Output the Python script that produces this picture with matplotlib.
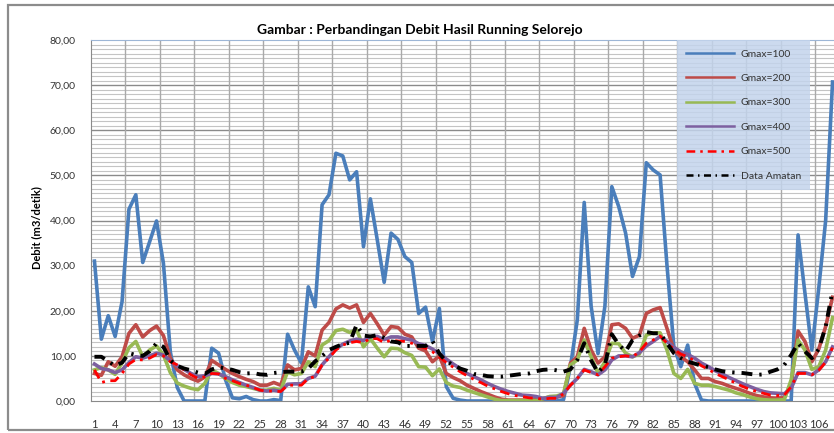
import numpy as np
import matplotlib
matplotlib.use("Agg")
import matplotlib.pyplot as plt
from matplotlib.patches import Rectangle
from matplotlib.ticker import MultipleLocator, FuncFormatter

plt.rcParams['font.family'] = ['Lato', 'DejaVu Sans']

# data (periode 1..108)
periode = np.arange(1, 109)

gmax100 = [31.0, 13.7, 18.9, 14.3, 22.0, 42.5, 45.7, 30.7, 35.3, 39.9,
           30.5, 10.9, 3.0, 0, 0, 0, 0, 11.7, 10.6, 4.7,
           0.7, 0.5, 1.0, 0.3, 0, 0, 0.3, 0.1, 14.8, 11.3,
           8.4, 25.3, 20.9, 43.5, 45.7, 54.9, 54.3, 49.0, 50.8, 34.2,
           44.8, 35.7, 26.3, 37.2, 35.8, 32.0, 30.7, 19.4, 20.8, 13.2,
           20.5, 3.2, 0.6, 0.2, 0, 0, 0, 0, 0, 0,
           0, 0, 0, 0, 0, 0, 0, 0, 0.3, 7.6,
           18.0, 44.0, 21.0, 10.5, 21.0, 47.5, 43.1, 37.2, 27.6, 32.0,
           52.8, 51.2, 50.1, 30.0, 12.0, 7.6, 12.4, 3.9, 0.2, 0,
           0, 0, 0, 0, 0, 0, 0, 0, 0, 0,
           0, 0, 36.8, 23.9, 11.3, 25.0, 40.0, 70.7]

gmax200 = [6.1, 5.7, 8.7, 7.7, 9.8, 15.0, 16.9, 14.2, 15.6, 16.6,
           14.5, 9.5, 6.9, 5.8, 5.0, 4.4, 5.3, 9.0, 8.0, 7.0,
           6.1, 5.4, 4.8, 4.3, 3.5, 3.5, 4.1, 3.5, 8.0, 6.9,
           7.2, 10.9, 10.0, 15.7, 17.4, 20.4, 21.3, 20.6, 21.3, 17.4,
           19.4, 17.1, 14.6, 16.5, 16.3, 14.8, 14.2, 11.7, 11.1, 8.7,
           10.0, 6.1, 5.2, 4.5, 3.5, 2.8, 2.1, 1.5, 0.9, 0.4,
           0.2, 0.2, 0.2, 0.2, 0.3, 0.5, 0.9, 0.9, 1.2, 8.4,
           9.8, 16.1, 11.3, 8.4, 9.8, 16.9, 17.1, 16.1, 13.9, 14.6,
           19.4, 20.2, 20.7, 16.1, 11.3, 9.8, 8.7, 6.9, 5.0, 5.0,
           4.3, 3.9, 3.3, 2.8, 2.3, 1.7, 1.2, 0.9, 0.7, 0.6,
           0.8, 3.7, 15.5, 13.2, 8.7, 11.5, 16.5, 23.0]

gmax300 = [6.9, 7.4, 6.9, 5.9, 8.5, 11.8, 13.2, 9.8, 11.3, 12.2,
           10.2, 6.3, 4.0, 3.3, 2.8, 2.5, 3.9, 6.9, 6.1, 5.0,
           4.1, 3.5, 3.2, 2.8, 2.4, 2.4, 2.8, 2.4, 6.5, 5.8,
           6.1, 8.7, 7.6, 12.4, 13.4, 15.6, 15.9, 15.2, 15.8, 12.0,
           13.8, 11.7, 9.8, 11.7, 11.6, 10.7, 10.1, 7.6, 7.5, 5.6,
           7.1, 4.1, 3.3, 3.0, 2.4, 1.9, 1.4, 0.9, 0.4, 0.1,
           0.1, 0.1, 0.1, 0.1, 0.1, 0.5, 1.0, 1.1, 1.6, 8.0,
           9.1, 13.5, 9.8, 6.1, 8.7, 12.8, 12.7, 10.6, 9.8, 10.4,
           14.6, 15.1, 15.1, 11.3, 6.1, 5.0, 7.0, 3.9, 3.5, 3.5,
           3.2, 2.8, 2.4, 1.8, 1.4, 0.9, 0.5, 0.3, 0.2, 0.2,
           0.3, 4.7, 13.5, 11.3, 7.0, 7.6, 11.3, 18.5]

gmax400 = [8.2, 7.2, 6.9, 6.3, 6.9, 8.5, 9.8, 9.5, 10.0, 10.6,
           10.2, 8.9, 7.8, 7.0, 6.1, 5.4, 5.6, 6.1, 6.0, 5.4,
           4.7, 4.1, 3.5, 3.0, 2.4, 2.2, 2.4, 2.1, 3.7, 3.8,
           3.8, 5.0, 5.5, 8.0, 9.8, 11.5, 12.6, 13.3, 13.7, 13.4,
           14.3, 14.3, 13.6, 14.2, 14.2, 13.8, 13.5, 12.7, 12.3, 11.5,
           10.5, 9.3, 8.2, 7.2, 6.1, 5.4, 4.7, 3.9, 3.2, 2.6,
           2.1, 1.7, 1.3, 1.2, 1.0, 0.6, 0.8, 0.8, 1.7, 3.5,
           5.0, 7.0, 6.5, 5.8, 6.9, 9.1, 10.0, 10.0, 9.8, 10.7,
           12.2, 13.2, 14.3, 13.2, 11.9, 10.9, 10.3, 9.5, 8.4, 7.6,
           6.7, 6.0, 5.2, 4.5, 3.8, 3.2, 2.6, 2.1, 1.8, 1.7,
           1.6, 2.8, 6.3, 6.3, 5.8, 6.9, 8.7, 12.0]

gmax500 = [6.9, 4.1, 4.5, 4.5, 6.1, 8.2, 9.2, 9.1, 9.5, 10.3,
           10.0, 8.7, 8.0, 6.9, 5.8, 5.0, 5.4, 6.1, 6.0, 5.0,
           4.5, 3.9, 3.5, 3.0, 2.4, 2.2, 2.2, 2.1, 3.5, 3.5,
           3.5, 5.0, 5.4, 8.0, 9.5, 11.3, 12.4, 12.9, 13.2, 12.9,
           13.9, 13.8, 12.9, 13.5, 13.3, 13.2, 12.8, 12.2, 11.7, 10.9,
           9.8, 8.5, 7.5, 6.5, 5.6, 4.8, 4.1, 3.3, 2.7, 2.1,
           1.6, 1.2, 1.0, 0.7, 0.6, 0.4, 0.6, 0.6, 1.6, 3.5,
           5.0, 6.9, 6.3, 5.8, 7.6, 9.5, 9.8, 10.0, 9.8, 10.9,
           12.8, 13.5, 14.4, 12.8, 11.5, 10.4, 9.8, 8.9, 7.8, 7.0,
           6.1, 5.4, 4.7, 3.9, 3.2, 2.6, 2.1, 1.7, 1.3, 1.2,
           1.3, 3.2, 6.1, 6.1, 5.8, 6.8, 8.6, 11.8]

amatan = [9.8, 9.8, 8.8, 7.8, 8.5, 10.6, 10.2, 10.0, 11.0, 12.8,
          12.0, 9.0, 7.8, 7.2, 6.8, 6.3, 6.0, 7.0, 7.5, 7.2,
          6.9, 6.4, 6.1, 6.2, 5.9, 5.8, 6.2, 6.4, 6.5, 6.5,
          6.5, 7.2, 8.8, 10.0, 11.3, 12.0, 12.6, 12.9, 16.9, 14.5,
          14.3, 14.6, 14.0, 13.2, 13.0, 12.2, 12.2, 12.2, 12.2, 13.3,
          10.5, 8.8, 8.0, 7.2, 6.7, 6.0, 5.8, 5.5, 5.4, 5.4,
          5.6, 5.8, 6.0, 6.1, 6.6, 6.9, 7.0, 6.8, 6.5, 7.0,
          9.1, 12.8, 9.0, 6.3, 8.0, 14.8, 12.5, 11.0, 13.5, 14.5,
          15.3, 15.0, 15.0, 12.8, 10.6, 9.5, 8.7, 8.3, 7.8, 7.5,
          7.0, 6.6, 6.4, 6.3, 6.2, 6.0, 5.8, 5.9, 6.5, 7.0,
          8.0, 10.2, 12.8, 11.0, 9.5, 11.5, 16.5, 24.5]

xtick_labels = list(range(1, 107, 3))

fig = plt.figure(figsize=(8.34, 4.33), dpi=100)
fig.patch.set_facecolor('white')

# chart area border
fig.patches.append(Rectangle((8 / 834, 3 / 433), 1.0, 1 - 8 / 433,
                             transform=fig.transFigure, fill=False,
                             edgecolor='#8c8c8c', linewidth=1.6))

ax = fig.add_axes([91 / 834, 1 - 401 / 433, 745 / 834, 361 / 433])

ax.plot(periode, gmax100, color='#4a7ebb', lw=2.6, label='Gmax=100', zorder=3)
ax.plot(periode, gmax200, color='#be4b48', lw=2.6, label='Gmax=200', zorder=3)
ax.plot(periode, gmax300, color='#98b954', lw=2.6, label='Gmax=300', zorder=3)
ax.plot(periode, gmax400, color='#7d60a0', lw=2.6, label='Gmax=400', zorder=3)
ax.plot(periode, gmax500, color='#ff0000', lw=2.0, dashes=(3.5, 2, 1, 2),
        label='Gmax=500', zorder=3)
ax.plot(periode, amatan, color='black', lw=2.8, dashes=(2.8, 1.8, 0.6, 1.8),
        label='Data Amatan', zorder=3)

ax.set_xlim(0.5, 108.5)
ax.set_ylim(0, 80)

ax.yaxis.set_major_locator(MultipleLocator(10))
ax.yaxis.set_minor_locator(MultipleLocator(1))
ax.yaxis.set_major_formatter(FuncFormatter(lambda v, p: ('%.2f' % v).replace('.', ',')))
ax.set_xticks(xtick_labels)
ax.set_xticklabels([str(v) for v in xtick_labels])

# gridlines
ax.grid(False)
for v in np.arange(1, 80):
    if v % 10:
        ax.axhline(v, color='#c4c4c4', lw=0.8, zorder=1)
for v in range(10, 80, 10):
    ax.axhline(v, color='#8a8a8a', lw=1.0, zorder=1)
for v in np.arange(5.5, 108.5, 5):
    ax.axvline(v, color='#a9a9a9', lw=1.0, zorder=1)

ax.tick_params(axis='both', which='both', length=0, labelsize=7.5, colors='#333333')
ax.tick_params(axis='x', pad=13, labelsize=8)
ax.tick_params(axis='y', pad=11)

for s in ['right']:
    ax.spines[s].set_visible(False)
ax.spines['top'].set_color('#9db6d6')
ax.spines['left'].set_color('#8a8a8a')
ax.spines['bottom'].set_color('#8a8a8a')

fig.text(0.503, 1 - 30 / 433, 'Gambar : Perbandingan Debit Hasil Running Selorejo',
         ha='center', va='center', fontsize=10, fontweight='bold')
fig.text(37 / 834, 1 - 228 / 433, 'Debit (m3/detik)', rotation=90,
         ha='center', va='center', fontsize=8, fontweight='bold')

leg = ax.legend(loc='upper left', bbox_to_anchor=(677 / 834, 1 - 40 / 433),
                bbox_transform=fig.transFigure, borderaxespad=0,
                fontsize=7.5, handlelength=4.6, handletextpad=0.6,
                labelspacing=1.45, borderpad=0.9, fancybox=False,
                frameon=True)
leg.get_frame().set_facecolor('#c3d4ec')
leg.get_frame().set_alpha(0.85)
leg.get_frame().set_edgecolor('none')
for h in leg.get_lines():
    h.set_linewidth(1.8)
for t in leg.get_texts():
    t.set_color('#333333')

fig.savefig('out.png', dpi=100)
